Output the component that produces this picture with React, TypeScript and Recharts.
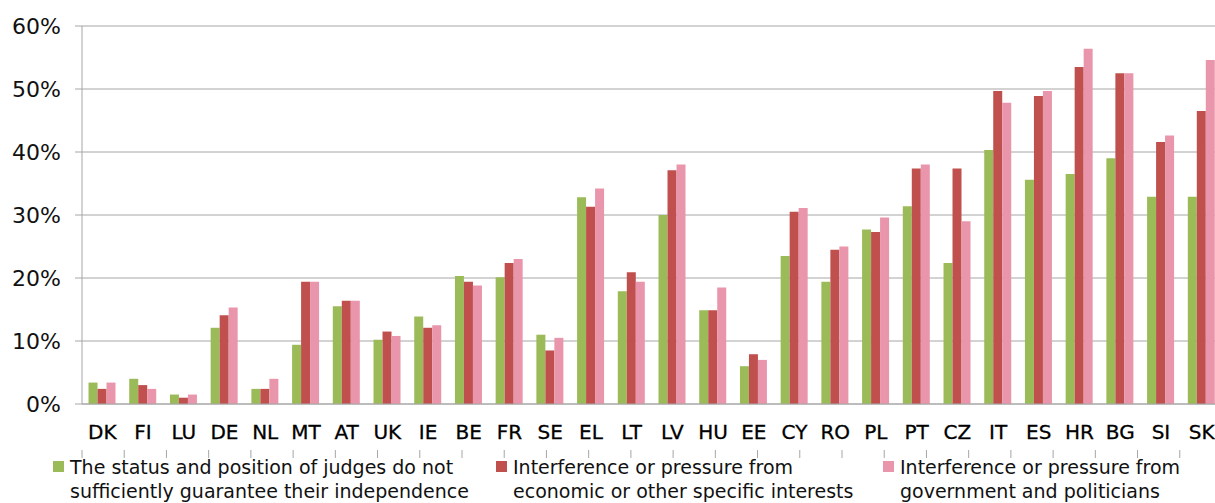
import React from 'react';
import { BarChart, Bar, XAxis, YAxis, CartesianGrid, Legend } from 'recharts';

// country codes in chart order
const countries = [
    'DK', 'FI', 'LU', 'DE', 'NL', 'MT', 'AT', 'UK', 'IE', 'BE', 'FR', 'SE', 'EL', 'LT',
    'LV', 'HU', 'EE', 'CY', 'RO', 'PL', 'PT', 'CZ', 'IT', 'ES', 'HR', 'BG', 'SI', 'SK'
];

// % of respondents per reason
const judgesStatus = [
    3.4, 4.0, 1.5, 12.1, 2.4, 9.4, 15.5, 10.2, 13.9, 20.3, 20.1, 11.0, 32.8, 17.9,
    30.0, 14.9, 6.0, 23.5, 19.4, 27.7, 31.4, 22.4, 40.3, 35.6, 36.5, 39.0, 32.9, 32.9
];
const economicPressure = [
    2.4, 3.0, 1.0, 14.1, 2.4, 19.4, 16.4, 11.5, 12.1, 19.4, 22.4, 8.5, 31.3, 20.9,
    37.1, 14.9, 7.9, 30.5, 24.5, 27.3, 37.4, 37.4, 49.7, 48.9, 53.5, 52.5, 41.6, 46.5
];
const governmentPressure = [
    3.4, 2.4, 1.5, 15.3, 4.0, 19.4, 16.4, 10.8, 12.5, 18.8, 23.0, 10.5, 34.2, 19.4,
    38.0, 18.5, 7.0, 31.1, 25.0, 29.6, 38.0, 29.0, 47.8, 49.7, 56.4, 52.5, 42.6, 54.6
];

const yTicks = [0, 10, 20, 30, 40, 50, 60];
// tick marks sit between the country groups
const edgeTicks = countries.map((_, i) => i).concat([countries.length]);

const series = [
    { key: 'judges', color: '#9BBB59', lines: ['The status and position of judges do not', 'sufficiently guarantee their independence'], left: 53 },
    { key: 'economic', color: '#C0504D', lines: ['Interference or pressure from', 'economic or other specific interests'], left: 496 },
    { key: 'government', color: '#E995AB', lines: ['Interference or pressure from', 'government and politicians'], left: 883 }
];

const data = countries.map((c, i) => ({
    code: c,
    judges: judgesStatus[i],
    economic: economicPressure[i],
    government: governmentPressure[i]
}));

const FONT = '"DejaVu Sans", sans-serif';
const AXIS_GREY = '#A6A6A6';

const renderLegend = () => (
    <div style={{ position: 'relative', width: 1215, height: 52, fontFamily: FONT, fontSize: 19, lineHeight: '24px', color: '#111' }}>
        {series.map(s => (
            <div key={s.key} style={{ position: 'absolute', left: s.left, top: 4 }}>
                <div style={{ position: 'absolute', left: 0, top: 6, width: 11, height: 11, background: s.color }} />
                <div style={{ marginLeft: 17, whiteSpace: 'nowrap' }}>
                    {s.lines.map(l => <div key={l}>{l}</div>)}
                </div>
            </div>
        ))}
    </div>
);

export default function App() {
    return (
        <div style={{ position: 'absolute', left: 0, top: 0, width: 1215, height: 503, overflow: 'hidden', background: '#fff' }}>
            <BarChart
                width={1222}
                height={503}
                data={data}
                margin={{ top: 26, right: 0, left: 0, bottom: 0 }}
                barCategoryGap="16%"
                barGap={0}
            >
                <CartesianGrid vertical={false} stroke={AXIS_GREY} strokeWidth={1} />
                <XAxis
                    xAxisId="edges"
                    type="number"
                    domain={[0, countries.length]}
                    ticks={edgeTicks}
                    interval={0}
                    allowDataOverflow
                    height={1}
                    axisLine={false}
                    tickSize={8}
                    tickLine={{ stroke: AXIS_GREY }}
                    tickFormatter={() => ''}
                />
                <XAxis
                    dataKey="code"
                    interval={0}
                    height={46}
                    tickLine={false}
                    tickSize={8}
                    tickMargin={13}
                    axisLine={{ stroke: AXIS_GREY }}
                    tick={{ fontSize: 20, fill: '#000', fontFamily: FONT, stroke: '#000', strokeWidth: 0.3 }}
                />
                <YAxis
                    width={82}
                    domain={[0, 60]}
                    ticks={yTicks}
                    interval={0}
                    tickFormatter={v => `${v}%`}
                    tickSize={7}
                    tickMargin={14}
                    axisLine={{ stroke: AXIS_GREY }}
                    tickLine={{ stroke: AXIS_GREY }}
                    tick={{ fontSize: 22, fill: '#111', fontFamily: FONT }}
                />
                <Legend verticalAlign="bottom" content={renderLegend} wrapperStyle={{ left: 0, width: 1215 }} />
                {series.map(s => (
                    <Bar key={s.key} dataKey={s.key} fill={s.color} isAnimationActive={false} />
                ))}
            </BarChart>
        </div>
    );
}
